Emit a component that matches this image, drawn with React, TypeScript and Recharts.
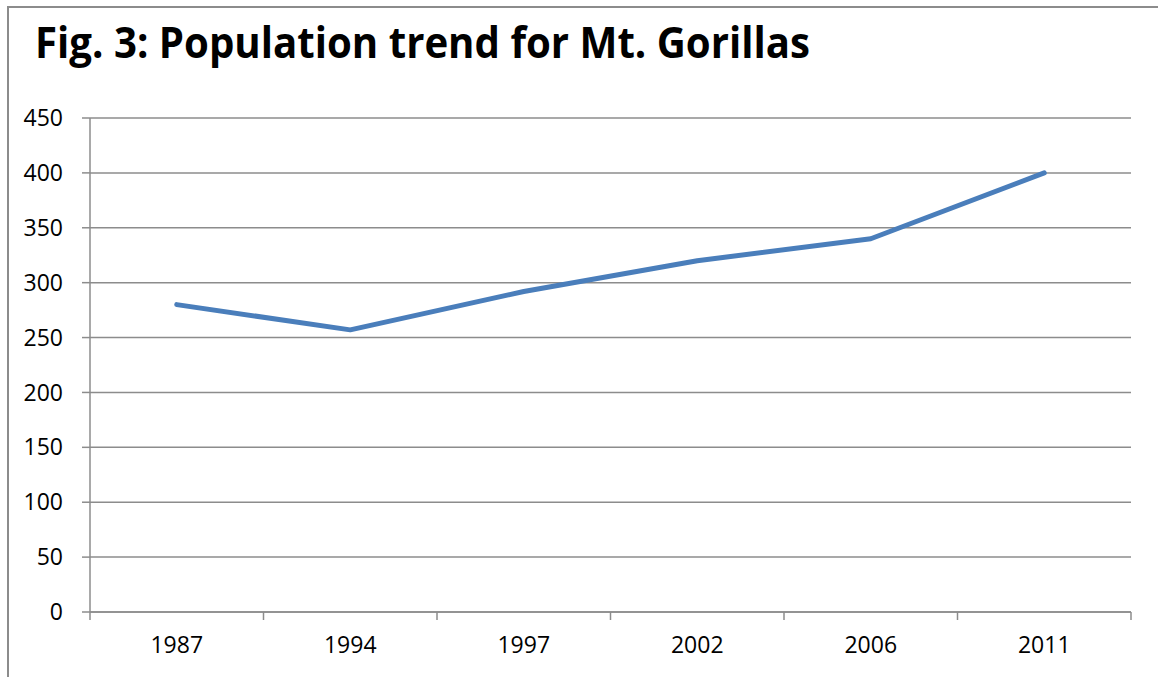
import React from 'react';
import { LineChart, Line, XAxis, YAxis, CartesianGrid } from 'recharts';

const years = ['1987', '1994', '1997', '2002', '2006', '2011'];
const population = [280, 257, 292, 320, 340, 400];
const yTicks = [0, 50, 100, 150, 200, 250, 300, 350, 400, 450];

const data = years.map((year, i) => ({ year, population: population[i] }));

const W = 1158;
const H = 677;
const margin = { top: 118, right: 27, left: 0, bottom: 0 };
const yAxisWidth = 90;
const plotWidth = W - margin.left - margin.right - yAxisWidth;
const band = plotWidth / years.length;
const axisColor = '#8c8c8c';
const font = '"Open Sans", sans-serif';

const XTick = (props: any) => {
	const { x, y, payload, index } = props;
	const axisY = y - 25;
	return (
		<g>
			<line x1={x - band / 2} x2={x - band / 2} y1={axisY} y2={axisY + 8} stroke={axisColor} strokeWidth={1.5} />
			{index === years.length - 1 && (
				<line x1={x + band / 2} x2={x + band / 2} y1={axisY} y2={axisY + 8} stroke={axisColor} strokeWidth={1.5} />
			)}
			<text x={x} y={y} dy="0.71em" textAnchor="middle" fill="#000" fontSize={23} fontFamily={font}>
				{payload.value}
			</text>
		</g>
	);
};

export default function App() {
	return (
		<div style={{ position: 'absolute', left: 0, top: 0, width: W, height: H, background: '#fff' }}>
			<div
				style={{
					position: 'absolute',
					left: 7,
					top: 6,
					width: W,
					height: H,
					borderLeft: `2px solid ${axisColor}`,
					borderTop: `2px solid ${axisColor}`,
				}}
			/>
			<svg style={{ position: 'absolute', left: 0, top: 0 }} width={W} height={100}>
				<text
					x={35}
					y={58}
					fontFamily={font}
					fontWeight="bold"
					fontSize={43}
					fill="#000"
					textLength={775}
					lengthAdjust="spacingAndGlyphs"
				>
					Fig. 3: Population trend for Mt. Gorillas
				</text>
			</svg>
			<div style={{ position: 'absolute', left: 0, top: 0 }}>
				<LineChart width={W} height={H} data={data} margin={margin}>
					<CartesianGrid vertical={false} stroke={axisColor} strokeWidth={1.5} />
					<XAxis
						dataKey="year"
						scale="band"
						height={65}
						axisLine={{ stroke: axisColor, strokeWidth: 1.5 }}
						tickLine={{ stroke: 'none' }}
						tickSize={8}
						tickMargin={17}
						tick={<XTick />}
						interval={0}
					/>
					<YAxis
						width={yAxisWidth}
						domain={[0, 450]}
						ticks={yTicks}
						interval={0}
						axisLine={{ stroke: axisColor, strokeWidth: 1.5 }}
						tickLine={{ stroke: axisColor, strokeWidth: 1.5 }}
						tickSize={8}
						tickMargin={19}
						tick={{ fill: '#000', fontSize: 23, fontFamily: font }}
					/>
					<Line
						type="linear"
						dataKey="population"
						stroke="#4a7ebb"
						strokeWidth={5}
						strokeLinecap="round"
						strokeLinejoin="round"
						dot={false}
						activeDot={false}
						isAnimationActive={false}
					/>
				</LineChart>
			</div>
		</div>
	);
}
